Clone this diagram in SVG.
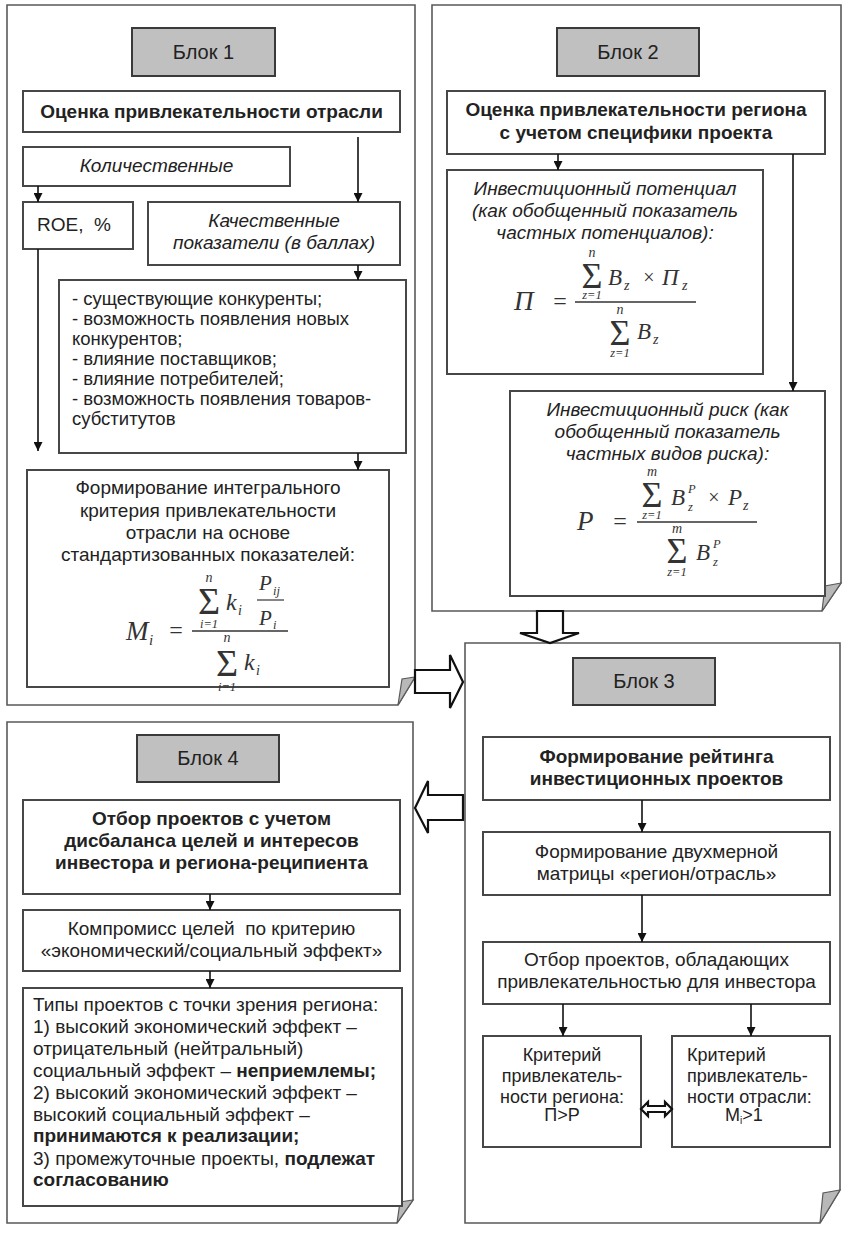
<svg xmlns="http://www.w3.org/2000/svg" width="846" height="1235" viewBox="0 0 846 1235">
<defs>
<style>
.frame{fill:#fff;stroke:#5a5a5a;stroke-width:1.6}
.fold{fill:#b8b8b8;stroke:#5a5a5a;stroke-width:1.2}
.box{fill:#fff;stroke:#474747;stroke-width:2}
.lbl{fill:#c0c0c0;stroke:#3a3a3a;stroke-width:2}
text{font-family:"Liberation Sans",Arial,sans-serif;fill:#222;font-size:19px}
.c{text-anchor:middle}
.b{font-weight:bold}
.i{font-style:italic}
.s18{font-size:18.5px}
.s18c{font-size:18px}
.hd{font-size:20px}
.m{font-family:"Liberation Serif","Times New Roman",serif;font-style:italic;fill:#333}
.mc{font-family:"Liberation Serif","Times New Roman",serif;font-style:italic;fill:#333;text-anchor:middle}
.sg{font-family:"Liberation Serif","Times New Roman",serif;font-style:normal;fill:#333;text-anchor:middle}
.f27{font-size:27px}.f24{font-size:24px}.f23{font-size:23px}.f21{font-size:21px}.f20{font-size:20px}
.f13{font-size:15px}.f12{font-size:14px}.f11{font-size:14px}.f10{font-size:12.5px}
.f38{font-size:38px}.f36{font-size:36px}
.conn line{stroke:#111;stroke-width:1.6;marker-end:url(#ah)}
.hollow{fill:#fff;stroke:#111;stroke-width:2.2;stroke-linejoin:miter}
</style>
<marker id="ah" markerWidth="9" markerHeight="9" refX="9" refY="4.5" orient="auto" markerUnits="userSpaceOnUse"><path d="M0,0 L9,4.5 L0,9 z" fill="#111"/></marker>
</defs>
<rect width="846" height="1235" fill="#fff"/>

<!-- Block 1 -->
<g id="block1">
<path class="frame" d="M7,5 H415 V677 L398,705 H7 Z"/>
<path class="fold" d="M415,677 L398,705 L402,679 Z"/>
<rect class="lbl" x="132" y="28" width="143" height="48"/>
<text class="c hd" x="203.5" y="59">Блок 1</text>
</g>
<g id="n1_title"><rect class="box" x="23" y="91" width="377" height="41"/>
<text class="c b" x="211.5" y="118">Оценка привлекательности отрасли</text></g>
<g id="n1_quant"><rect class="box" x="23" y="147" width="267" height="39"/>
<text class="c i" x="156.5" y="172">Количественные</text></g>
<g id="n1_roe"><rect class="box" x="23" y="202" width="110" height="47"/>
<text x="37" y="231" xml:space="preserve">ROE,  %</text></g>
<g id="n1_qual"><rect class="box" x="148" y="202" width="252" height="63"/>
<text class="c i" x="274" y="227">Качественные</text>
<text class="c i" x="274" y="249">показатели (в баллах)</text></g>
<g id="n1_list"><rect class="box" x="59" y="280" width="347" height="173"/>
<text class="s18" x="72" y="305">- существующие конкуренты;</text>
<text class="s18" x="72" y="325">- возможность появления новых</text>
<text class="s18" x="72" y="345">конкурентов;</text>
<text class="s18" x="72" y="365">- влияние поставщиков;</text>
<text class="s18" x="72" y="385">- влияние потребителей;</text>
<text class="s18" x="72" y="405">- возможность появления товаров-</text>
<text class="s18" x="72" y="425">субститутов</text></g>
<g id="n1_integral"><rect class="box" x="27" y="470" width="362" height="217"/>
<text class="c" x="208" y="494">Формирование интегрального</text>
<text class="c" x="208" y="517">критерия привлекательности</text>
<text class="c" x="208" y="539">отрасли на основе</text>
<text class="c" x="208" y="561">стандартизованных показателей:</text>
<text class="m f27" x="126" y="640">M</text>
<text class="m f13" x="149" y="645">i</text>
<text class="sg f24" x="176" y="638">=</text>
<line x1="192" y1="631" x2="288" y2="631" stroke="#333" stroke-width="1.5"/>
<text class="mc f12" x="209" y="582">n</text>
<text class="sg f38" x="209" y="614">Σ</text>
<text class="mc f10" x="209" y="628">i=1</text>
<text class="m f24" x="226" y="610">k</text>
<text class="m f11" x="238" y="615">i</text>
<text class="m f21" x="259" y="590">P</text>
<text class="m f10" x="273" y="595">ij</text>
<line x1="257" y1="600" x2="284" y2="600" stroke="#333" stroke-width="1.2"/>
<text class="m f21" x="259" y="625">P</text>
<text class="m f10" x="273" y="629">i</text>
<text class="mc f12" x="227" y="642">n</text>
<text class="sg f38" x="227" y="676">Σ</text>
<text class="mc f10" x="227" y="691">i=1</text>
<text class="m f24" x="244" y="670">k</text>
<text class="m f11" x="256" y="675">i</text></g>

<!-- Block 2 -->
<g id="block2">
<path class="frame" d="M432,5 H841 V583 L822,611 H432 Z"/>
<path class="fold" d="M841,583 L822,611 L825,586 Z"/>
<rect class="lbl" x="557" y="28" width="142" height="48"/>
<text class="c hd" x="628" y="59">Блок 2</text>
</g>
<g id="n2_title"><rect class="box" x="447" y="91" width="378" height="63"/>
<text class="c b" x="636" y="116">Оценка привлекательности региона</text>
<text class="c b" x="636" y="139">с учетом специфики проекта</text></g>
<g id="n2_potential"><rect class="box" x="447" y="170" width="316" height="204"/>
<text class="c i" x="605" y="195">Инвестиционный потенциал</text>
<text class="c i" x="605" y="217">(как обобщенный показатель</text>
<text class="c i" x="605" y="239">частных потенциалов):</text>
<text class="m f27" x="514" y="310">П</text>
<text class="sg f24" x="560" y="309">=</text>
<line x1="575" y1="302" x2="696" y2="302" stroke="#333" stroke-width="1.5"/>
<text class="mc f12" x="592" y="257">n</text>
<text class="sg f36" x="592" y="288">Σ</text>
<text class="mc f10" x="592" y="299">z=1</text>
<text class="m f23" x="608" y="285">B</text>
<text class="m f11" x="624" y="290">z</text>
<text class="sg f20" x="649" y="284">×</text>
<text class="m f23" x="662" y="285">П</text>
<text class="m f11" x="682" y="290">z</text>
<text class="mc f12" x="620" y="314">n</text>
<text class="sg f36" x="620" y="345">Σ</text>
<text class="mc f10" x="620" y="357">z=1</text>
<text class="m f23" x="637" y="339">B</text>
<text class="m f11" x="653" y="344">z</text></g>
<g id="n2_risk"><rect class="box" x="510" y="391" width="315" height="205"/>
<text class="c i" x="667.5" y="416">Инвестиционный риск (как</text>
<text class="c i" x="667.5" y="438">обобщенный показатель</text>
<text class="c i" x="667.5" y="460">частных видов риска):</text>
<text class="m f27" x="577" y="530">P</text>
<text class="sg f24" x="620" y="529">=</text>
<line x1="637" y1="522" x2="757" y2="522" stroke="#333" stroke-width="1.5"/>
<text class="mc f12" x="652" y="476">m</text>
<text class="sg f36" x="652" y="507">Σ</text>
<text class="mc f10" x="652" y="519">z=1</text>
<text class="m f23" x="671" y="505">B</text>
<text class="m f10" x="688" y="493">P</text>
<text class="m f10" x="688" y="511">z</text>
<text class="sg f20" x="714" y="504">×</text>
<text class="m f23" x="728" y="505">P</text>
<text class="m f11" x="743" y="510">z</text>
<text class="mc f12" x="677" y="533">m</text>
<text class="sg f36" x="677" y="563">Σ</text>
<text class="mc f10" x="677" y="576">z=1</text>
<text class="m f23" x="696" y="560">B</text>
<text class="m f10" x="713" y="548">P</text>
<text class="m f10" x="713" y="566">z</text></g>

<!-- Block 3 -->
<g id="block3">
<path class="frame" d="M465,643 H840 V1190 L820,1223 H465 Z"/>
<path class="fold" d="M840,1190 L820,1223 L823,1193 Z"/>
<rect class="lbl" x="573" y="658" width="142" height="47"/>
<text class="c hd" x="644" y="688">Блок 3</text>
</g>
<g id="n3_rating"><rect class="box" x="483" y="737" width="347" height="63"/>
<text class="c b" x="656.5" y="763">Формирование рейтинга</text>
<text class="c b" x="656.5" y="785">инвестиционных проектов</text></g>
<g id="n3_matrix"><rect class="box" x="483" y="832" width="347" height="63"/>
<text class="c" x="656.5" y="858">Формирование двухмерной</text>
<text class="c" x="656.5" y="880">матрицы «регион/отрасль»</text></g>
<g id="n3_select"><rect class="box" x="483" y="942" width="347" height="62"/>
<text class="c" x="656.5" y="966">Отбор проектов, обладающих</text>
<text class="c" x="656.5" y="988">привлекательностью для инвестора</text></g>
<g id="n3_crit_region"><rect class="box" x="483" y="1036" width="158" height="111"/>
<text class="c s18c" x="562" y="1061">Критерий</text>
<text class="c s18c" x="562" y="1082">привлекатель-</text>
<text class="c s18c" x="562" y="1103">ности региона:</text>
<text class="c s18c" x="562" y="1121">П&gt;Р</text></g>
<g id="n3_crit_industry"><rect class="box" x="672" y="1036" width="158" height="111"/>
<text class="s18c" x="687" y="1061">Критерий</text>
<text class="s18c" x="687" y="1082">привлекатель-</text>
<text class="s18c" x="687" y="1103">ности отрасли:</text>
<text class="s18c" x="725" y="1121">M<tspan style="font-size:10px" dy="3">i</tspan><tspan dy="-3">&gt;1</tspan></text></g>

<!-- Block 4 -->
<g id="block4">
<path class="frame" d="M7,722 H413 V1200 L397,1223 H7 Z"/>
<path class="fold" d="M413,1200 L397,1223 L400,1202 Z"/>
<rect class="lbl" x="137" y="735" width="142" height="47"/>
<text class="c hd" x="208" y="765">Блок 4</text>
</g>
<g id="n4_title"><rect class="box" x="23" y="800" width="377" height="94"/>
<text class="c b" x="211.5" y="825">Отбор проектов с учетом</text>
<text class="c b" x="211.5" y="847">дисбаланса целей и интересов</text>
<text class="c b" x="211.5" y="869">инвестора и региона-реципиента</text></g>
<g id="n4_compromise"><rect class="box" x="23" y="910" width="377" height="61"/>
<text class="c" x="211.5" y="935" xml:space="preserve">Компромисс целей  по критерию</text>
<text class="c" x="211.5" y="957">«экономический/социальный эффект»</text></g>
<g id="n4_types"><rect class="box" x="23" y="988" width="379" height="218"/>
<text x="33" y="1011">Типы проектов с точки зрения региона:</text>
<text x="33" y="1033">1) высокий экономический эффект –</text>
<text x="33" y="1055">отрицательный (нейтральный)</text>
<text x="33" y="1077">социальный эффект – <tspan class="b">неприемлемы;</tspan></text>
<text x="33" y="1099">2) высокий экономический эффект –</text>
<text x="33" y="1121">высокий социальный эффект –</text>
<text x="33" y="1142" class="b">принимаются к реализации;</text>
<text x="33" y="1165">3) промежуточные проекты, <tspan class="b">подлежат</tspan></text>
<text x="33" y="1186" class="b">согласованию</text></g>

<!-- Connectors -->
<g id="connectors">
<g class="conn">
<line x1="38" y1="186" x2="38" y2="202"/>
<line x1="358" y1="137" x2="358" y2="202"/>
<line x1="358" y1="265" x2="358" y2="280"/>
<line x1="38" y1="249" x2="38" y2="451"/>
<line x1="358" y1="453" x2="358" y2="470"/>
<line x1="558" y1="154" x2="558" y2="170"/>
<line x1="793" y1="154" x2="793" y2="391"/>
<line x1="642" y1="800" x2="642" y2="832"/>
<line x1="642" y1="895" x2="642" y2="942"/>
<line x1="563" y1="1004" x2="563" y2="1036"/>
<line x1="751" y1="1004" x2="751" y2="1036"/>
<line x1="210" y1="894" x2="210" y2="910"/>
<line x1="210" y1="971" x2="210" y2="988"/>
</g>
<polygon class="hollow" points="415,670 450,670 450,655 463,682 450,708 450,693 415,693"/>
<polygon class="hollow" points="537,611 563,611 563,633 579,633 550,643 520,633 537,633"/>
<polygon class="hollow" points="463,795 428,795 428,781 415,808 428,833 428,820 463,820"/>
<polygon class="hollow" stroke-width="1.4" points="641,1109 648,1102 648,1106 665,1106 665,1102 672,1109 665,1116 665,1112 648,1112 648,1116"/>
</g>
</svg>
